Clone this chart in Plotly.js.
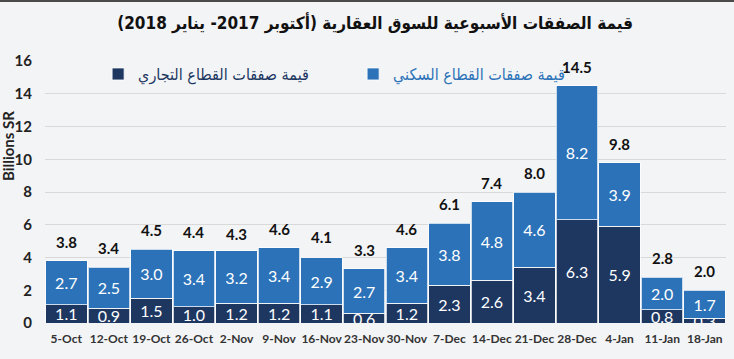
<!DOCTYPE html>
<html>
<head>
<meta charset="utf-8">
<script src="https://cdn.plot.ly/plotly-3.0.1.min.js"></script>
<style>
html,body{margin:0;padding:0;background:#f3f4f6;}
#chart{width:734px;height:357px;border-top:2px solid #4a4a4a;}
</style>
</head>
<body>
<div id="chart"></div>
<script>
const categories = ['5-Oct','12-Oct','19-Oct','26-Oct','2-Nov','9-Nov','16-Nov','23-Nov','30-Nov','7-Dec','14-Dec','21-Dec','28-Dec','4-Jan','11-Jan','18-Jan'];
const commercial = [1.1,0.9,1.5,1.0,1.2,1.2,1.1,0.6,1.2,2.3,2.6,3.4,6.3,5.9,0.8,0.3];
const residential = [2.7,2.5,3.0,3.4,3.2,3.4,2.9,2.7,3.4,3.8,4.8,4.6,8.2,3.9,2.0,1.7];
const totals = [3.8,3.4,4.5,4.4,4.3,4.6,4.1,3.3,4.6,6.1,7.4,8.0,14.5,9.8,2.8,2.0];
const yTicks = [0,2,4,6,8,10,12,14,16];

const titleText = '\u200Fقيمة الصفقات الأسبوعية للسوق العقارية (أكتوبر 2017- يناير 2018)\u200F';
const nameCommercial = 'قيمة صفقات القطاع التجاري';
const nameResidential = 'قيمة صفقات القطاع السكني';
const yTitle = 'Billions SR';

const darkColor = '#1d3761';
const lightColor = '#2b72b8';
const numFont = 'Lato, Arial, sans-serif';
const arFont = '"DejaVu Sans Condensed", "DejaVu Sans", sans-serif';

const common = {
  type: 'bar',
  x: categories,
  textposition: 'inside',
  insidetextanchor: 'middle',
  textangle: 0,
  constraintext: 'none',
  cliponaxis: true,
  hoverinfo: 'skip'
};

const traces = [
  Object.assign({}, common, {
    y: commercial,
    name: '<span style="color:' + darkColor + '">' + nameCommercial + '</span>',
    text: commercial.map(v => v.toFixed(1)),
    marker: {color: darkColor, line: {color: 'rgba(255,255,255,0.75)', width: 1}},
    textfont: {family: numFont, size: 16, color: '#ffffff'}
  }),
  Object.assign({}, common, {
    y: residential,
    name: '<span style="color:' + lightColor + '">' + nameResidential + '</span>',
    text: residential.map(v => v.toFixed(1)),
    marker: {color: lightColor, line: {color: 'rgba(255,255,255,0.75)', width: 1}},
    textfont: {family: numFont, size: 16, color: '#ffffff'}
  })
];

const totalAnnotations = categories.map((c, i) => ({
  x: c, y: totals[i], xref: 'x', yref: 'y',
  text: '<b>' + totals[i].toFixed(1) + '</b>',
  showarrow: false, yshift: 19,
  font: {family: numFont, size: 15, color: '#111111'}
}));

const layout = {
  width: 734, height: 357,
  paper_bgcolor: '#f3f4f6', plot_bgcolor: '#f3f4f6',
  margin: {l: 45, r: 8, t: 59, b: 36},
  title: {text: '<b>' + titleText + '</b>', x: 0.511, xanchor: 'center', y: 0.94, yanchor: 'middle',
          font: {family: arFont, size: 17, color: '#111111'}},
  barmode: 'stack', bargap: 0.025,
  showlegend: true,
  legend: {orientation: 'h', x: 0.078, y: 1.015, xanchor: 'left', yanchor: 'top',
           font: {family: arFont, size: 16}, bgcolor: 'rgba(0,0,0,0)',
           entrywidth: 210, entrywidthmode: 'pixels', traceorder: 'normal'},
  xaxis: {type: 'category', tickangle: 0,
          tickfont: {family: numFont, size: 12, color: '#333333', weight: 'bold'},
          ticks: '', showline: false, showgrid: false, ticklabelstandoff: 7, fixedrange: true},
  yaxis: {range: [0, 16], tickvals: yTicks, ticktext: yTicks.map(String),
          tickfont: {family: numFont, size: 15, color: '#222222', weight: 'bold'},
          gridcolor: '#d9d9d9', gridwidth: 1, zeroline: false, showline: false, ticks: '',
          ticklabelstandoff: 12, fixedrange: true},
  annotations: totalAnnotations.concat([{
    xref: 'paper', yref: 'paper', x: -0.054, y: 0.676, xanchor: 'center', yanchor: 'middle',
    text: '<b>' + yTitle + '</b>', textangle: -90, showarrow: false,
    font: {family: numFont, size: 15, color: '#222222'}
  }])
};

Plotly.newPlot('chart', traces, layout, {displayModeBar: false, staticPlot: true});
</script>
</body>
</html>
